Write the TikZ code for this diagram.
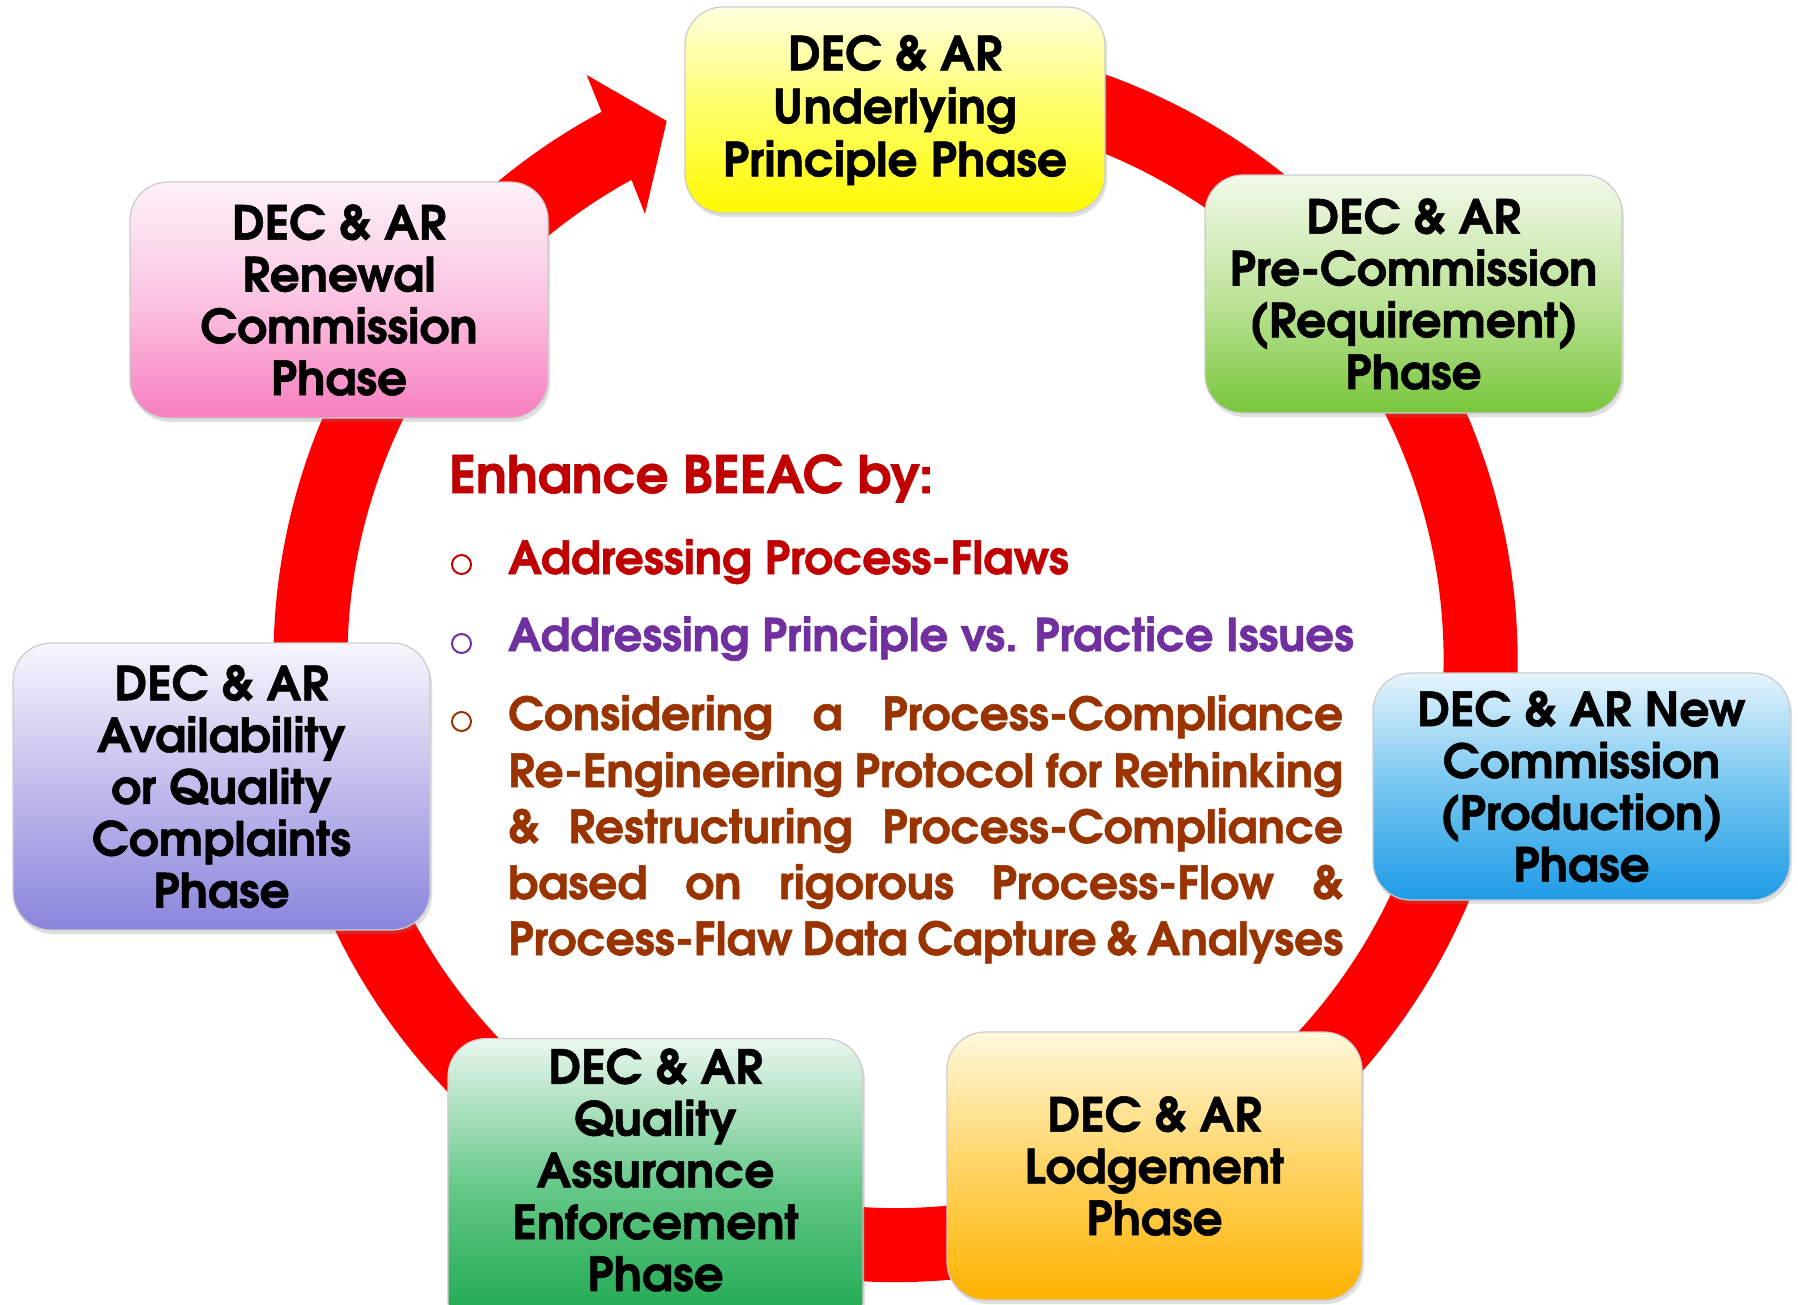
\documentclass[tikz,border=0pt]{standalone}
\usepackage{fontspec}
\setmainfont{TeX Gyre Adventor}[BoldFeatures={FakeBold=1.2}]
\usetikzlibrary{shadows,calc}
\definecolor{ringred}{HTML}{FF0000}
\definecolor{darkred}{HTML}{C00000}
\definecolor{violet2}{HTML}{7030A0}
\definecolor{brown2}{HTML}{993300}
\begin{document}
\begin{tikzpicture}[x=1pt,y=1pt,
  phase/.style={rounded corners=38pt, draw=black!20, line width=1.2pt,
    align=center, font=\bfseries\fontsize{47}{51.8}\selectfont, text=black,
    minimum width=417pt, inner sep=0pt,
    drop shadow={opacity=0.25, shadow xshift=2pt, shadow yshift=-4pt}},
  phasetext/.style={align=center, font=\bfseries\fontsize{47}{51.8}\selectfont, text=black, inner sep=0pt},
  bodyline/.style={anchor=base west, inner sep=0pt, font=\bfseries\fontsize{45.5}{56}\selectfont},
  bulletc/.style={circle, line width=2pt, minimum size=19pt, inner sep=0pt}
]
\useasboundingbox (0,0) rectangle (1798,-1304);
\fill[white] (0,0) rectangle (1798,-1304);
\coordinate (C) at (895.5,-660);
% red ring with arrowhead
\fill[ringred] ($(C)+(105:622pt)$) arc[start angle=105, end angle=-241.8, radius=622pt]
  -- (586.7,-75) -- (666.7,-121) -- (645,-214)
  -- ($(C)+(-241.2:548pt)$) arc[start angle=-241.2, end angle=105, radius=548pt] -- cycle;

% phase boxes
\node[phase, minimum width=420pt, minimum height=206pt, font=\bfseries\fontsize{47}{53}\selectfont,
  top color=yellow!12, bottom color=yellow!95!orange, middle color=yellow!60]
  (under) at (895,-110) {DEC \& AR\\Underlying\\Principle Phase};
\node[phase, minimum height=238pt,
  top color={rgb,255:red,242;green,249;blue,234}, bottom color={rgb,255:red,120;green,198;blue,60}, middle color={rgb,255:red,192;green,228;blue,156}]
  (pre) at (1413.5,-294) {DEC \& AR\\Pre-Commission\\(Requirement)\\Phase};
\node[phase, minimum height=227pt,
  top color={rgb,255:red,230;green,244;blue,252}, bottom color={rgb,255:red,30;green,155;blue,230}, middle color={rgb,255:red,116;green,198;blue,240}]
  (new) at (1581.5,-786.5) {DEC \& AR New\\Commission\\(Production)\\Phase};
\node[phase, minimum width=415pt, minimum height=268pt,
  top color={rgb,255:red,255;green,248;blue,220}, bottom color={rgb,255:red,255;green,178;blue,0}, middle color={rgb,255:red,255;green,212;blue,100}]
  (lodge) at (1154.5,-1166) {DEC \& AR\\Lodgement\\Phase};
\node[phase, minimum width=415pt, minimum height=300pt, anchor=north,
  top color={rgb,255:red,234;green,246;blue,238}, bottom color={rgb,255:red,20;green,164;blue,72}, middle color={rgb,255:red,100;green,200;blue,136}]
  (qa) at (655.5,-1038) {};
\node[phasetext] (qatext) at (655.5,-1170) {DEC \& AR\\Quality\\Assurance\\Enforcement\\Phase};
\node[phase, minimum height=287pt,
  top color={rgb,255:red,247;green,246;blue,252}, bottom color={rgb,255:red,138;green,133;blue,220}, middle color={rgb,255:red,192;green,188;blue,236}]
  (avail) at (221.5,-786.5) {DEC \& AR\\Availability\\or Quality\\Complaints\\Phase};
\node[phase, minimum width=418pt, minimum height=236pt,
  top color={rgb,255:red,253;green,242;blue,248}, bottom color={rgb,255:red,247;green,126;blue,190}, middle color={rgb,255:red,251;green,196;blue,226}]
  (renew) at (339,-300) {DEC \& AR\\Renewal\\Commission\\Phase};

% central text
\node[anchor=base west, inner sep=0pt, text=darkred, font=\bfseries\fontsize{51.5}{56}\selectfont]
  (title) at (449,-493) {Enhance BEEAC by:};
\node[bulletc, draw=darkred] (b1) at (461.5,-564.5) {};
\node[bodyline, text=darkred] (t1) at (508,-574) {Addressing Process-Flaws};
\node[bulletc, draw=violet2] (b2) at (461.5,-643.5) {};
\node[bodyline, text=violet2, font=\bfseries\fontsize{45}{56}\selectfont] (t2) at (508,-651) {Addressing Principle vs. Practice Issues};
\node[bulletc, draw=brown2] (b3) at (461.5,-721.5) {};
\node[bodyline, text=brown2] (p1) at (508,-730) {\makebox[835pt][s]{Considering a Process-Compliance}};
\node[bodyline, text=brown2] (p2) at (508,-787) {\makebox[835pt][s]{Re-Engineering Protocol for Rethinking}};
\node[bodyline, text=brown2] (p3) at (508,-843) {\makebox[835pt][s]{\& Restructuring Process-Compliance}};
\node[bodyline, text=brown2] (p4) at (508,-899) {\makebox[835pt][s]{based on rigorous Process-Flow \&}};
\node[bodyline, text=brown2] (p5) at (508,-955) {\makebox[835pt][s]{Process-Flaw Data Capture \& Analyses}};
\end{tikzpicture}
\end{document}
